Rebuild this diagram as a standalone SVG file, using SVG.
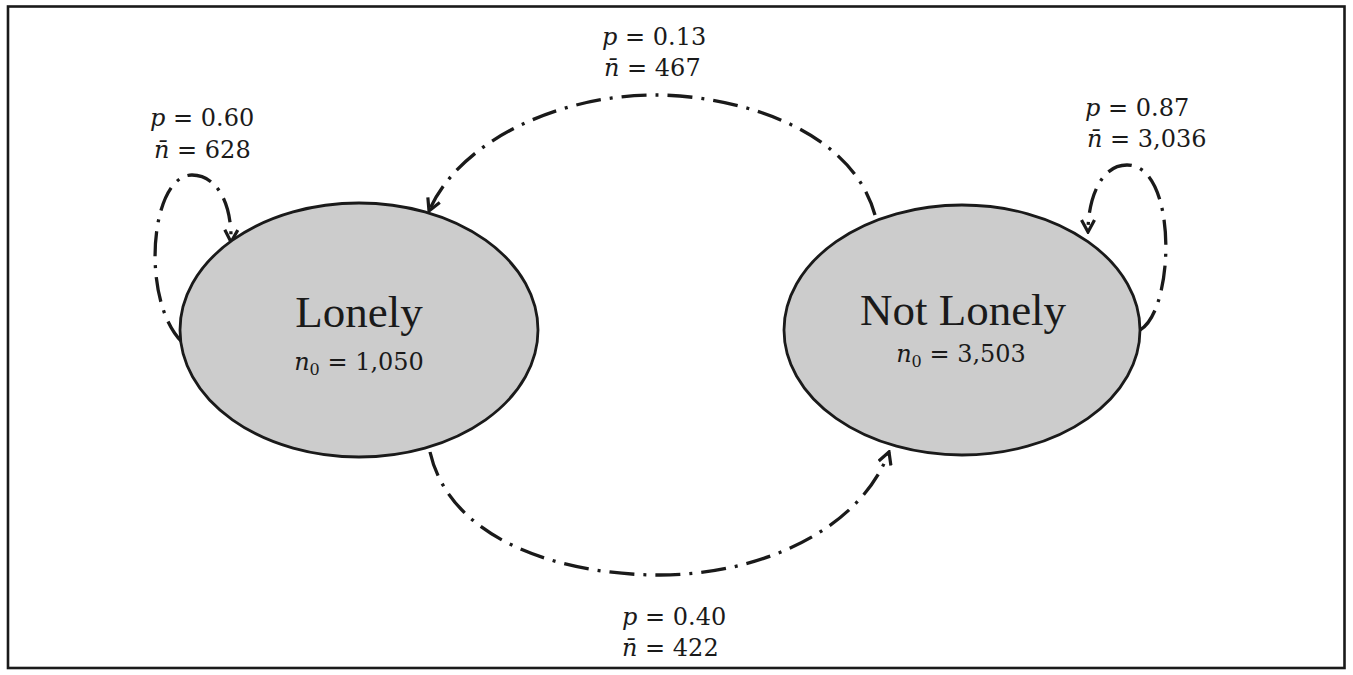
<svg xmlns="http://www.w3.org/2000/svg" width="1353" height="675" viewBox="0 0 1353 675">
<style>
.node{fill:#cccccc;stroke:#1a1a1a;stroke-width:2.8}
.title{font-family:"Liberation Serif",serif;font-size:45px;fill:#1a1a1a;text-anchor:middle}
.math{font-family:"DejaVu Serif","Liberation Serif",serif;font-size:24px;fill:#1a1a1a}
.it{font-style:italic}
.sub{font-size:16px}
.edge{fill:none;stroke:#1a1a1a;stroke-width:3.3;stroke-dasharray:25 9 3 9}
</style>
<defs>
<marker id="arr" viewBox="0 0 16 16" refX="14" refY="8" markerWidth="16" markerHeight="16" markerUnits="userSpaceOnUse" orient="auto">
<path d="M2,1.5 L14,8 L2,14.5" fill="none" stroke="#1a1a1a" stroke-width="3.2"/>
</marker>
</defs>
<rect x="0" y="0" width="1353" height="675" fill="#ffffff"/>
<rect x="8" y="6.5" width="1336.5" height="661.5" fill="none" stroke="#1a1a1a" stroke-width="2.6"/>
<g id="connectors">
<path class="edge" d="M875,215 C850,125 730,95 655,95 C560,95 460,140 429,211" marker-end="url(#arr)"/>
<path class="edge" d="M430,452 C450,540 560,575 660,575 C760,575 860,530 889,452" marker-end="url(#arr)"/>
<path class="edge" d="M182,342 C140,300 150,175 192,175 C215,175 232,200 231,242" marker-end="url(#arr)"/>
<path class="edge" d="M1140,330 C1175,310 1178,165 1127,165 C1100,165 1088,200 1088,232" marker-end="url(#arr)"/>
</g>
<g id="lonely">
<ellipse class="node" cx="359" cy="330" rx="179" ry="127"/>
<text class="title" x="359" y="327">Lonely</text>
<text class="math" x="359" y="370" text-anchor="middle"><tspan class="it">n</tspan><tspan class="sub" dy="5">0</tspan><tspan dy="-5"> = 1,050</tspan></text>
</g>
<g id="notlonely">
<ellipse class="node" cx="962" cy="330" rx="178" ry="125"/>
<text class="title" x="963" y="325">Not Lonely</text>
<text class="math" x="961" y="362" text-anchor="middle"><tspan class="it">n</tspan><tspan class="sub" dy="5">0</tspan><tspan dy="-5"> = 3,503</tspan></text>
</g>
<g id="label-top">
<text class="math" x="602" y="45"><tspan class="it">p</tspan> = 0.13</text>
<text class="math" x="604" y="76"><tspan class="it">n̄</tspan> = 467</text>
</g>
<g id="label-left">
<text class="math" x="150" y="126"><tspan class="it">p</tspan> = 0.60</text>
<text class="math" x="154" y="158"><tspan class="it">n̄</tspan> = 628</text>
</g>
<g id="label-right">
<text class="math" x="1085" y="116"><tspan class="it">p</tspan> = 0.87</text>
<text class="math" x="1087" y="147"><tspan class="it">n̄</tspan> = 3,036</text>
</g>
<g id="label-bottom">
<text class="math" x="622" y="625"><tspan class="it">p</tspan> = 0.40</text>
<text class="math" x="622" y="656"><tspan class="it">n̄</tspan> = 422</text>
</g>
</svg>
